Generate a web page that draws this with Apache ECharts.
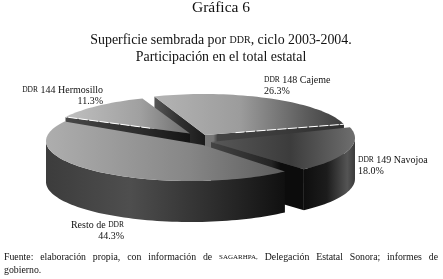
<!DOCTYPE html>
<html><head><meta charset="utf-8"><style>html,body{margin:0;background:#fff}#c{width:443px;height:279px}</style>
<script src="https://cdn.jsdelivr.net/npm/echarts@6/dist/echarts.min.js"></script></head>
<body><div id="c"></div><script>
const categories = ['DDR 148 Cajeme','DDR 149 Navojoa','Resto de DDR','DDR 144 Hermosillo'];
const shares = [26.3, 18.0, 44.3, 11.3];

const FONT = '"Liberation Serif", serif';
const startParam = -110, RX = 145, RY = 41, DEPTH = 41;
// per-slice layout of the exploded pie, in draw geometry
const centers = [[204,135],[210,138],[191,141],[192,137]];
const radiusY = [41,41,40,41];
const apexShift = [[1,0],[1,4],[12,4],[-2,-3.5]];
const topStops = [
  [[0,'#b4b4b4'],[0.45,'#9c9c9c'],[0.8,'#5c5c5c'],[1,'#3c3c3c']],
  [[0,'#585858'],[0.55,'#3c3c3c'],[1,'#6e6e6e']],
  [[0,'#aeaeae'],[0.6,'#868686'],[1,'#5c5c5c']],
  [[0,'#c0c0c0'],[0.6,'#a0a0a0'],[1,'#6c6c6c']]];
const wallStops = [
  [[0,'#333'],[1,'#333']],
  [[0,'#0e0e0e'],[0.45,'#1c1c1c'],[0.85,'#545454'],[1,'#3a3a3a']],
  [[0,'#3c3c3c'],[0.35,'#4e4e4e'],[0.8,'#242424'],[1,'#101010']],
  [[0,'#333'],[1,'#333']]];
const faceStart = [
  [[0,'#565656'],[0.5,'#303030'],[1,'#1a1a1a']],
  [[0,'#333'],[1,'#333']],
  [[0,'#333'],[1,'#333']],
  [[0,'#484848'],[0.6,'#2c2c2c'],[1,'#141414']]];
const faceEnd = [
  [[0,'#787878'],[0.06,'#767676'],[0.09,'#444444'],[1,'#303030']],
  [[0,'#444444'],[0.65,'#242424'],[0.75,'#0c0c0c'],[1,'#0c0c0c']],
  [[0,'#333'],[1,'#333']],
  [[0,'#333'],[1,'#333']]];
const order = [0,3,1,2];
const whiteEdge = {0:[1,0.22,1], 3:[0,0,0.68]}; // slice -> [edge, from, to] along the edge

const total = shares.reduce((a,b)=>a+b,0);
let acc = startParam;
const spans = shares.map(v=>{const a0=acc; acc+=v/total*360; return [a0,acc];});
const rad = d=>d*Math.PI/180;
const grad = s=>({type:'linear',x:0,y:0,x2:1,y2:0,colorStops:s.map(p=>({offset:p[0],color:p[1]}))});

function renderSlice(params, api){
  const idx = api.value(0);
  const [a0,a1] = spans[idx];
  const [cx,cy] = centers[idx];
  const pt = (d,dz)=>[cx+RX*Math.cos(rad(d)), cy+radiusY[idx]*Math.sin(rad(d))+(dz||0)];
  const arc = [], n = Math.ceil((a1-a0)/2);
  for(let i=0;i<=n;i++) arc.push(a0+(a1-a0)*i/n);
  const children = [];
  const apex=[cx+apexShift[idx][0],cy+apexShift[idx][1]], apexB=[apex[0],apex[1]+DEPTH];
  if(Math.cos(rad(a0))<0) children.push({type:'polygon',shape:{points:[apex,pt(a0),pt(a0,DEPTH),apexB]},style:{fill:grad(faceStart[idx])}});
  if(Math.cos(rad(a1))>0) children.push({type:'polygon',shape:{points:[apex,pt(a1),pt(a1,DEPTH),apexB]},style:{fill:grad(faceEnd[idx])}});
  const vis = arc.filter(d=>Math.sin(rad(d))>=-0.02);
  if(vis.length>1){
    const pts = vis.map(d=>pt(d)).concat(vis.slice().reverse().map(d=>pt(d,DEPTH)));
    children.push({type:'polygon',shape:{points:pts},style:{fill:grad(wallStops[idx])}});
  }
  children.push({type:'polygon',shape:{points:[apex].concat(arc.map(d=>pt(d)))},style:{fill:grad(topStops[idx])}});
  const w = whiteEdge[idx];
  if(w){
    const rim = pt(w[0]?a1:a0);
    const lerp = t=>[apex[0]+(rim[0]-apex[0])*t, apex[1]+(rim[1]-apex[1])*t];
    const f = w[0] ? lerp(w[1]) : lerp(1-w[2]);
    const t = w[0] ? lerp(w[2]) : lerp(1);
    children.push({type:'line',shape:{x1:f[0],y1:f[1],x2:t[0],y2:t[1]},style:{stroke:'#fff',lineWidth:1,lineDash:[9,1.5],fill:null}});
  }
  return {type:'group',children};
}
const SZ = 10, SC = 7.5;
const rs = (size)=>({fontSize:size,fontFamily:FONT,font:size+'px '+FONT,fill:'#111'});
const rich = {sc:rs(SC),n:rs(SZ)};
function lab(name,share){
  let t;
  if(name.startsWith('DDR ')) t='{sc|DDR} {n|'+name.slice(4)+'}';
  else if(name.endsWith(' DDR')) t='{n|'+name.slice(0,-3)+'}{sc|DDR}';
  else t='{n|'+name+'}';
  return t+'\n{n|'+share.toFixed(1)+'%}';
}
const labelPos = [[264,86,'left'],[358,166,'left'],[124,231,'right'],[103,96,'right']];
const text=(x,y,t,size,align,extra)=>({type:'text',z:10,x,y,style:Object.assign({text:t,font:size+'px '+FONT,fill:'#111',align:align||'center',verticalAlign:'middle'},extra||{})});

// justified first footer line
const footWords = [['Fuente:',9.8],['elaboración',9.8],['propia,',9.8],['con',9.8],['información',9.8],['de',9.8],['SAGARHPA,',7],['Delegación',9.8],['Estatal',9.8],['Sonora;',9.8],['informes',9.8],['de',9.8]];
const mc = document.createElement('canvas').getContext('2d');
const widths = footWords.map(w=>{mc.font=w[1]+'px '+FONT; return mc.measureText(w[0]).width;});
const L=4,R=438;
const gap = (R-L-widths.reduce((a,b)=>a+b,0))/(footWords.length-1);
let fx=L; const footItems = footWords.map((w,i)=>{const g=text(fx,257,w[0],w[1],'left'); fx+=widths[i]+gap; return g;});

const graphic = [
  text(221,8,'Gráfica 6',15.5),
  text(221,40,'{n|Superficie sembrada por }{s|DDR}{n|, ciclo 2003-2004.}',13.9,'center',{rich:{n:rs(13.9),s:rs(10)}}),
  text(221,57,'Participación en el total estatal',13.9),
  text(4,270,'gobierno.',9.8,'left')
].concat(footItems).concat(categories.map((c,i)=>text(labelPos[i][0],labelPos[i][1],lab(c,shares[i]),SZ,labelPos[i][2],{rich,lineHeight:11.5})));
const chart = echarts.init(document.getElementById('c'),null,{renderer:'canvas'});
chart.setOption({animation:false,graphic,
  series:[{type:'custom',coordinateSystem:'none',renderItem:renderSlice,encode:{value:[1]},
    data:order.map(i=>[i,shares[i]])}]});
</script></body></html>
